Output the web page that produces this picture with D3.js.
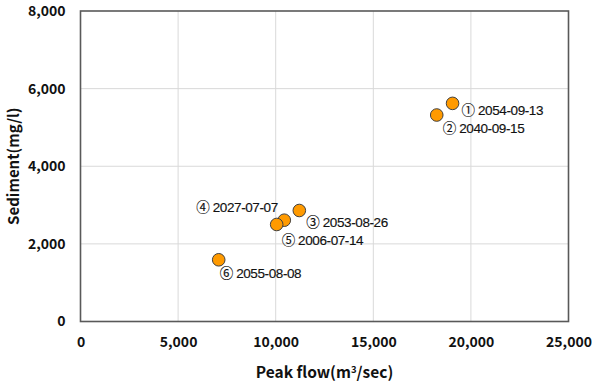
<!DOCTYPE html>
<html><head><meta charset="utf-8">
<script src="https://cdn.jsdelivr.net/npm/d3@7"></script>
<style>body{margin:0;background:#fff}</style>
</head><body>
<svg id="c" width="600" height="386"></svg>
<script>
// Data
const labels = ["① 2054-09-13","② 2040-09-15","③ 2053-08-26","④ 2027-07-07","⑤ 2006-07-14","⑥ 2055-08-08"];
const peakFlow = [19060, 18250, 11210, 10440, 10050, 7080];
const sediment = [5620, 5320, 2860, 2610, 2500, 1590];
const xTicks = [0, 5000, 10000, 15000, 20000, 25000];
const yTicks = [0, 2000, 4000, 6000, 8000];
// label placement offsets (pixels from point), by label index
const labelDx = [9, 6, 7, -88, 5, 1];
const labelDy = [12, 18, 17, -8.5, 21, 18];

const svg = d3.select("#c");
const L = 80.5, R = 568.5, T = 11, B = 321.5;
const x = d3.scaleLinear().domain([0, 25000]).range([L, R]);
const y = d3.scaleLinear().domain([0, 8000]).range([B, T]);
const fmt = d3.format(",");
const tickFont = "'Noto Sans CJK KR','Noto Sans',sans-serif";

// grid
svg.append("g").selectAll("line").data(xTicks.slice(1, -1)).join("line")
  .attr("x1", d => x(d)).attr("x2", d => x(d)).attr("y1", T).attr("y2", B)
  .attr("stroke", "#d9d9d9").attr("stroke-width", 1);
svg.append("g").selectAll("line").data(yTicks.slice(1, -1)).join("line")
  .attr("y1", d => y(d)).attr("y2", d => y(d)).attr("x1", L).attr("x2", R)
  .attr("stroke", "#d9d9d9").attr("stroke-width", 1);

// frame
svg.append("rect").attr("x", L).attr("y", T).attr("width", R - L).attr("height", B - T)
  .attr("fill", "none").attr("stroke", "#595959").attr("stroke-width", 1.6);

// axes (labels only)
const xAxis = d3.axisBottom(x).tickValues(xTicks).tickFormat(fmt).tickSize(0).tickPadding(16);
const gx = svg.append("g").attr("transform", `translate(0,${B})`).call(xAxis);
const yAxis = d3.axisLeft(y).tickValues(yTicks).tickFormat(fmt).tickSize(0).tickPadding(15);
const gy = svg.append("g").attr("transform", `translate(${L},0)`).call(yAxis);
[gx, gy].forEach(g => {
  g.select(".domain").remove();
  g.selectAll("text").attr("font-family", tickFont).attr("font-weight", "bold")
    .attr("font-size", 14).attr("fill", "#111");
});

// axis titles
svg.append("text").attr("x", (L + R) / 2).attr("y", 378).attr("text-anchor", "middle")
  .attr("font-family", tickFont).attr("font-weight", "bold").attr("font-size", 15.5).attr("fill", "#111")
  .html('Peak flow(m<tspan dy="-5" font-size="9.5">3</tspan><tspan dy="5">/sec)</tspan>');
svg.append("text").attr("transform", `translate(19,${(T + B) / 2}) rotate(-90)`)
  .attr("text-anchor", "middle")
  .attr("font-family", tickFont).attr("font-weight", "bold").attr("font-size", 15).attr("fill", "#111")
  .text("Sediment(mg/l)");

// points
const pts = peakFlow.map((v, i) => ({ x: v, y: sediment[i] }));
svg.append("g").selectAll("circle").data(pts).join("circle")
  .attr("cx", d => x(d.x)).attr("cy", d => y(d.y)).attr("r", 6.3)
  .attr("fill", "#ff9a00").attr("stroke", "#404040").attr("stroke-width", 1);

// labels
svg.append("g").selectAll("text").data(labels).join("text")
  .attr("x", (d, i) => x(pts[i].x) + labelDx[i])
  .attr("y", (d, i) => y(pts[i].y) + labelDy[i])
  .attr("font-family", "'Liberation Sans','Noto Sans CJK KR',sans-serif")
  .attr("font-size", 13.5).attr("letter-spacing", -0.4).attr("fill", "#111")
  .attr("stroke", "#111").attr("stroke-width", 0.15)
  .text(d => d);
</script>
</body></html>
